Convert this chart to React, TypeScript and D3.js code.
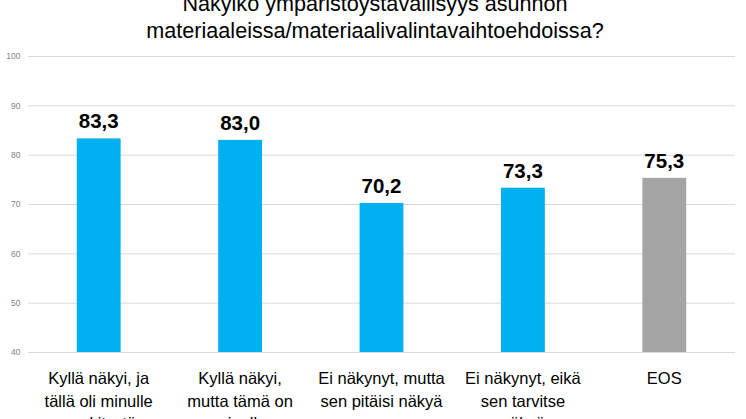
import { useEffect, useRef } from "react";
import * as d3 from "d3";

// chart data
const titleLines = [
  "Näkyikö ympäristöystävällisyys asunnon",
  "materiaaleissa/materiaalivalintavaihtoehdoissa?",
];
const categoryLines: string[][] = [
  ["Kyllä näkyi, ja", "tällä oli minulle", "merkitystä"],
  ["Kyllä näkyi,", "mutta tämä on", "minulle", "yhdentekevää"],
  ["Ei näkynyt, mutta", "sen pitäisi näkyä"],
  ["Ei näkynyt, eikä", "sen tarvitse", "näkyä"],
  ["EOS"],
];
const values = [83.3, 83.0, 70.2, 73.3, 75.3];
const barColors = ["#00B0F0", "#00B0F0", "#00B0F0", "#00B0F0", "#A5A5A5"];
const yTicks = [40, 50, 60, 70, 80, 90, 100];

const W = 746;
const H = 419;
const FONT = "'Liberation Sans', Arial, sans-serif";

const App = () => {
  const ref = useRef<SVGSVGElement | null>(null);

  useEffect(() => {
    const svg = d3.select(ref.current);
    svg.selectAll("*").remove();

    const keys = categoryLines.map((_, i) => String(i));

    const x = d3
      .scaleBand<string>()
      .domain(keys)
      .range([28, 735])
      .paddingInner(0.69)
      .paddingOuter(0.345);

    const y = d3.scaleLinear().domain([40, 100]).range([352, 56]);

    // title (first line is cut by the top edge, as in the source image)
    svg
      .append("g")
      .selectAll("text")
      .data(titleLines)
      .join("text")
      .attr("x", 375)
      .attr("y", (_, i) => 11 + i * 27)
      .attr("text-anchor", "middle")
      .attr("font-family", FONT)
      .attr("font-size", 21.6)
      .attr("fill", "#000")
      .text((d) => d);

    // gridlines
    svg
      .append("g")
      .selectAll("line")
      .data(yTicks)
      .join("line")
      .attr("x1", 28)
      .attr("x2", 735)
      .attr("y1", (d) => y(d) + 0.5)
      .attr("y2", (d) => y(d) + 0.5)
      .attr("stroke", "#D9D9D9")
      .attr("stroke-width", 1);

    // y tick labels
    svg
      .append("g")
      .selectAll("text")
      .data(yTicks)
      .join("text")
      .attr("x", 20.5)
      .attr("y", (d) => y(d) + 0.5)
      .attr("dy", "0.35em")
      .attr("text-anchor", "end")
      .attr("font-family", FONT)
      .attr("font-size", 8.5)
      .attr("fill", "#7F7F7F")
      .text((d) => d);

    // bars
    svg
      .append("g")
      .selectAll("rect")
      .data(values)
      .join("rect")
      .attr("x", (_, i) => x(keys[i])!)
      .attr("y", (d) => y(d))
      .attr("width", x.bandwidth())
      .attr("height", (d) => y(40) - y(d))
      .attr("fill", (_, i) => barColors[i]);

    // value labels
    svg
      .append("g")
      .selectAll("text")
      .data(values)
      .join("text")
      .attr("x", (_, i) => x(keys[i])! + x.bandwidth() / 2)
      .attr("y", (d) => y(d) - 10)
      .attr("text-anchor", "middle")
      .attr("font-family", FONT)
      .attr("font-size", 20.5)
      .attr("font-weight", "bold")
      .attr("fill", "#000")
      .text((d) => d.toFixed(1).replace(".", ","));

    // category labels (bottom lines cut by the lower edge, as in the source)
    const cat = svg
      .append("g")
      .selectAll("text")
      .data(categoryLines)
      .join("text")
      .attr("text-anchor", "middle")
      .attr("font-family", FONT)
      .attr("font-size", 16.5)
      .attr("fill", "#000");

    cat
      .selectAll("tspan")
      .data((d, i) => d.map((line) => ({ line, i })))
      .join("tspan")
      .attr("x", (d) => x(keys[d.i])! + x.bandwidth() / 2)
      .attr("y", (_, j) => 384 + j * 22.5)
      .text((d) => d.line);
  }, []);

  return (
    <svg
      ref={ref}
      width={W}
      height={H}
      style={{ position: "absolute", left: 0, top: 0, background: "#fff", overflow: "hidden" }}
    />
  );
};

export default App;
